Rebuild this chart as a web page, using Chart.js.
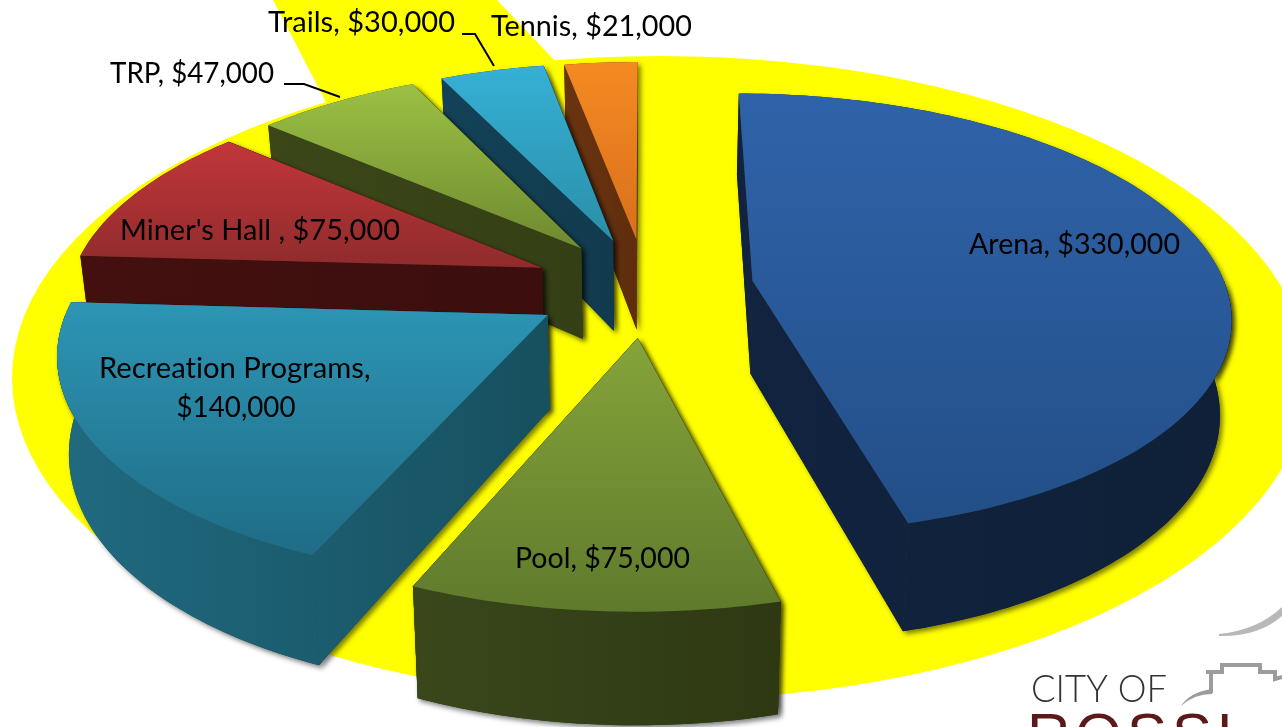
<!DOCTYPE html>
<html>
<head>
<meta charset="utf-8">
<style>html,body{margin:0;padding:0;background:#fff;overflow:hidden}canvas{display:block}</style>
<script src="https://cdn.jsdelivr.net/npm/chart.js@4/dist/chart.umd.min.js"></script>
</head>
<body>
<canvas id="c" width="1282" height="727"></canvas>
<script>
const categories = ['Arena', 'Pool', 'Recreation Programs', "Miner's Hall ", 'TRP', 'Trails', 'Tennis'];
const amounts = [330000, 75000, 140000, 75000, 47000, 30000, 21000];
const explode = [110, 110, 116, 116, 112, 112, 110];
const topLight = ['#2f63a9', '#86a43a', '#2d95b5', '#c2363a', '#9cc044', '#36b0d6', '#f58a22'];
const topDark  = ['#234f88', '#5f7a2c', '#1f6c86', '#8f2b2c', '#6f8a30', '#2a8fa8', '#d9701c'];
const wallLight = ['#11233f', '#3a471b', '#206a80', '#43100f', '#3b4718', '#134258', '#6b3410'];
const wallDark  = ['#0f2038', '#2e3913', '#17505f', '#3c0e0e', '#343f15', '#113a4d', '#5f2d0d'];
const paintOrder = [6, 5, 4, 3, 0, 2, 1];

// Perspective of the pie plane
const KX = 0.98, KY = 0.4485, BEND = 0.000306, DEPTH = 93, CONVERGE = 0.02;

function money(v){ return '$' + v.toLocaleString('en-US'); }
const labelText = categories.map((c, i) => c + ', ' + money(amounts[i]));

const labelSpots = [
  {lines:[labelText[0]], x:969, y:254, w:211},
  {lines:[labelText[1]], x:515, y:568, w:175},
  {lines:[categories[2] + ',', money(amounts[2])], x:99, y:378, w:274, centered:true},
  {lines:[labelText[3]], x:120, y:240, w:280},
  {lines:[labelText[4]], x:110, y:83, w:164},
  {lines:[labelText[5]], x:268, y:32, w:187},
  {lines:[labelText[6]], x:491, y:36, w:201}
];

function faces(el, i){
  const off = el.options.offset, R = el.outerRadius;
  const mid = (el.startAngle + el.endAngle) / 2;
  const ox = Math.cos(mid) * off, oy = Math.sin(mid) * off;
  const proj = (u, v) => {
    const w = 1 - BEND * v;
    return {x: el.x + KX * u / w, y: el.y + KY * v / w, w};
  };
  const drop = p => ({x: p.x + (el.x - p.x) * CONVERGE, y: p.y + DEPTH / p.w});
  const apex = proj(ox, oy);
  const rim = [], angles = [];
  const steps = Math.max(4, Math.ceil((el.endAngle - el.startAngle) / 0.02));
  for (let s = 0; s <= steps; s++) {
    const a = el.startAngle + (el.endAngle - el.startAngle) * s / steps;
    angles.push(a);
    rim.push(proj(ox + R * Math.cos(a), oy + R * Math.sin(a)));
  }
  const top = [apex, ...rim];
  const sideA = [apex, rim[0], drop(rim[0]), drop(apex)];
  const last = rim[rim.length - 1];
  const sideB = [apex, last, drop(last), drop(apex)];
  const front = rim.filter((p, k) => Math.sin(angles[k]) >= 0);
  const outer = front.length ? [...front, ...front.slice().reverse().map(drop)] : [];
  return {top, sideA, sideB, outer};
}
function trace(ctx, pts){
  ctx.beginPath();
  pts.forEach((p, k) => k ? ctx.lineTo(p.x, p.y) : ctx.moveTo(p.x, p.y));
  ctx.closePath();
}
function bounds(pts){
  const xs = pts.map(p => p.x), ys = pts.map(p => p.y);
  return {x0: Math.min(...xs), x1: Math.max(...xs), y0: Math.min(...ys), y1: Math.max(...ys)};
}

const backdrop = {
  id: 'backdrop',
  beforeDatasetsDraw(chart){
    const ctx = chart.ctx;
    ctx.save();
    ctx.fillStyle = '#ffff00';
    ctx.beginPath();
    ctx.ellipse(660, 378, 648, 322, 0, 0, Math.PI * 2);
    ctx.fill();
    ctx.beginPath();
    ctx.moveTo(273, 0); ctx.lineTo(497, 0); ctx.lineTo(560, 66); ctx.lineTo(330, 110);
    ctx.closePath();
    ctx.fill();
    ctx.restore();
  }
};

const pie3d = {
  id: 'pie3d',
  beforeDatasetsDraw(chart){
    const ctx = chart.ctx;
    const arcs = chart.getDatasetMeta(0).data;
    ctx.save();
    paintOrder.forEach(i => {
      const f = faces(arcs[i], i);
      const all = [f.sideA, f.sideB, f.outer, f.top].filter(p => p.length);
      // soft shadow
      ctx.save();
      ctx.shadowColor = 'rgba(0,0,0,0.5)';
      ctx.shadowBlur = 5; ctx.shadowOffsetX = 3; ctx.shadowOffsetY = 3;
      ctx.fillStyle = wallDark[i];
      all.forEach(p => { trace(ctx, p); ctx.fill(); });
      ctx.restore();
      // walls
      const b = bounds([...f.top, ...f.outer]);
      const wg = ctx.createLinearGradient(b.x0, 0, b.x1, 0);
      wg.addColorStop(0, wallLight[i]); wg.addColorStop(1, wallDark[i]);
      ctx.fillStyle = wg;
      [f.sideA, f.sideB, f.outer].forEach(p => {
        if (p.length) { trace(ctx, p); ctx.fill(); }
      });
      // top face
      const tb = bounds(f.top);
      const tg = ctx.createLinearGradient(0, tb.y0, 0, tb.y1);
      tg.addColorStop(0, topLight[i]); tg.addColorStop(1, topDark[i]);
      ctx.fillStyle = tg;
      trace(ctx, f.top); ctx.fill();
    });
    ctx.restore();
    return false;
  }
};

const extras = {
  id: 'extras',
  afterDraw(chart){
    const ctx = chart.ctx;
    ctx.save();
    // leader lines
    ctx.strokeStyle = '#000'; ctx.lineWidth = 2;
    ctx.beginPath();
    ctx.moveTo(284, 84); ctx.lineTo(304, 84); ctx.lineTo(340, 97);
    ctx.moveTo(462, 34); ctx.lineTo(475, 34); ctx.lineTo(494, 66);
    ctx.stroke();
    // labels
    ctx.fillStyle = '#000';
    ctx.font = '29.2px Lato, "Open Sans", sans-serif';
    ctx.letterSpacing = '0.01px';
    ctx.textBaseline = 'alphabetic';
    labelSpots.forEach(s => {
      if (s.centered) {
        ctx.textAlign = 'left';
        ctx.fillText(s.lines[0], s.x, s.y, s.w);
        ctx.textAlign = 'center';
        ctx.fillText(s.lines[1], s.x + 137, s.y + 39, 119);
      } else {
        ctx.textAlign = 'left';
        ctx.fillText(s.lines[0], s.x, s.y, s.w);
      }
    });
    // logo
    ctx.textAlign = 'left';
    ctx.fillStyle = '#333';
    ctx.font = '300 37px Lato, sans-serif';
    ctx.fillText('CITY OF', 1031, 702, 136);
    ctx.fillStyle = '#5a1a1a';
    ctx.font = '400 60px "Liberation Sans", sans-serif';
    ctx.letterSpacing = '5px';
    ctx.fillText('ROSSL', 1027, 755);
    ctx.letterSpacing = '0px';
    ctx.strokeStyle = '#9a9c9e'; ctx.lineWidth = 4; ctx.lineJoin = 'miter';
    ctx.beginPath();
    ctx.moveTo(1206, 672); ctx.lineTo(1222, 672); ctx.lineTo(1222, 665); ctx.lineTo(1260, 665);
    ctx.lineTo(1260, 672); ctx.lineTo(1275, 672); ctx.lineTo(1275, 679); ctx.lineTo(1282, 677);
    ctx.moveTo(1207, 672); ctx.lineTo(1211, 672); ctx.lineTo(1211, 693);
    ctx.stroke();
    ctx.fillStyle = '#9a9c9e';
    ctx.beginPath();
    ctx.moveTo(1181, 706); ctx.quadraticCurveTo(1190, 692, 1212, 689); ctx.lineTo(1212, 694);
    ctx.quadraticCurveTo(1194, 694, 1181, 706); ctx.fill();
    ctx.fillStyle = '#b8b8b8';
    ctx.beginPath();
    ctx.moveTo(1219, 634); ctx.quadraticCurveTo(1258, 630, 1282, 607); ctx.lineTo(1282, 616);
    ctx.quadraticCurveTo(1258, 637, 1219, 636); ctx.fill();
    ctx.restore();
  }
};

new Chart(document.getElementById('c'), {
  type: 'pie',
  data: {
    labels: categories,
    datasets: [{ data: amounts, backgroundColor: topLight, borderWidth: 0, offset: explode }]
  },
  options: {
    responsive: false,
    animation: false,
    radius: 483,
    layout: { padding: { bottom: 153, left: 10 } },
    plugins: { legend: { display: false }, tooltip: { enabled: false } }
  },
  plugins: [backdrop, pie3d, extras]
});
</script>
</body>
</html>
